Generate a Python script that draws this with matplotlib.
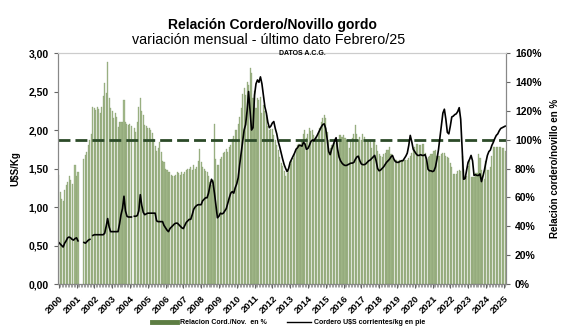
import numpy as np
import matplotlib
matplotlib.use("Agg")
import matplotlib.pyplot as plt
from matplotlib.ticker import FuncFormatter, MultipleLocator
from matplotlib.lines import Line2D

plt.rcParams['font.family'] = ['Liberation Sans', 'DejaVu Sans']

nan = np.nan

# relacion cordero/novillo en % (barras, eje derecho), mensual ene-2000 .. feb-2025
relacion = [
    75.7, 64.0, 58.7, 57.6, 65.1, 68.3, 70.9, 74.7, 72.0, 69.3, nan, 82.7,       # 2000
    74.7, 77.9, nan, nan, nan, 86.4, 89.6, 91.7, 96.0, 99.7, 104.0, 122.7,       # 2001
    121.6, 120.5, 122.7, 121.1, 118.4, 122.7, 130.1, 139.2, 132.3, 154.1, 129.1, 122.1,  # 2002
    120.0, 114.7, 118.4, 115.7, 108.8, 112.0, 112.0, 112.0, 127.5, 112.0, 110.9, 110.4,  # 2003
    110.9, 109.3, nan, 108.3, 105.1, 112.0, 122.7, 129.1, 120.0, 117.3, 110.4, 109.3,    # 2004
    108.3, 108.3, 106.7, 104.5, 100.3, 95.5, 92.3, 93.9, 98.7, 91.2, 85.3, 84.3,  # 2005
    80.0, 78.9, 77.9, 77.3, 75.7, 74.7, 74.7, 75.7, 77.3, 76.8, 75.7, 77.3,       # 2006
    76.3, 77.3, 78.9, 80.0, 80.0, 81.1, 78.9, 82.7, 80.0, 81.1, 85.3, 93.3,       # 2007
    84.3, 81.1, 80.0, 78.4, 77.3, 74.7, 70.4, 68.3, 72.0, 110.9, 86.4, 82.7,      # 2008
    82.7, 86.4, 88.0, 90.7, 91.7, 93.3, 91.7, 94.9, 96.0, 100.3, 102.4, 106.7,    # 2009
    106.7, 110.9, 115.7, 121.6, 131.7, 135.5, 130.7, 139.7, 137.6, 149.3, 146.1, 128.5,  # 2010
    133.9, 121.6, 128.5, 127.5, 129.6, 118.4, 123.7, 119.5, 117.3, 109.3, 106.7, 107.7,  # 2011
    107.7, 103.0, 99.7, 96.5, 92.8, 88.0, 84.0, 81.6, 78.0, 75.0, 77.0, 80.0,     # 2012
    83, 85, 87, 90, 93, 96, 97, 96, 100, 104, 107, 101,        # 2013
    104, 108, 106, 107, 103, 100, 102, 104, 108, 112, 115, 117,  # 2014
    115, 105, 100, 94, 96, 97, 98, 98, 100, 103, 103, 102,     # 2015
    103, 101, 100, 100, 94, 99, 101, 104, 110, 104, 100, 102,  # 2016
    100, 104, 102, 100, 99, 100, 100, 94, 100, 99, 96, 92,     # 2017
    90, 89, 88, 90, 91, 93, 93, 95, 90, 87, 86, 86,            # 2018
    86, 85, 86, 86, 86, 86, 86, 86, 87, 89, 91, 93,            # 2019
    95, 97, 97, 96, 96, 97, 97, 91, 85, 88, 89, 90,            # 2020
    90, 92, 93, 89, 89, 89, 90, 91, 91, 89, 88, 87,            # 2021
    84, 81, 76, 76, 76, 78, 79, 78, 89, 80, 75, 75,            # 2022
    82, 85, 74, 74, 74, 77, 77, 90, 87, 79, 75, 73,            # 2023
    85, 79, 79, 81, 89, 95, 95, 95, 95, 95, 95, 94,            # 2024
    94, 92,                                                    # 2025
]

# cordero U$S corrientes/kg en pie (linea, eje izquierdo)
cordero = [
    0.54, 0.52, 0.50, 0.48, 0.53, 0.56, 0.60, 0.61, 0.60, 0.58, 0.57, 0.59,  # 2000
    0.60, 0.56, nan, nan, nan, 0.54, 0.53, 0.55, 0.57, 0.58, nan, 0.63,      # 2001
    0.64, 0.64, 0.64, 0.64, 0.64, 0.64, 0.64, 0.66, 0.75, 0.85, 0.74, 0.68,  # 2002
    0.68, 0.68, 0.68, 0.68, 0.68, 0.78, 0.90, 0.98, 1.14, 0.95, 0.88, 0.87,  # 2003
    0.87, 0.87, nan, 0.88, 0.88, 0.89, 0.95, 1.16, 1.02, 0.93, 0.90, 0.91,   # 2004
    0.92, 0.92, 0.92, 0.92, 0.92, 0.92, 0.82, 0.81, 0.81, 0.81, 0.81, 0.76,  # 2005
    0.73, 0.70, 0.68, 0.72, 0.74, 0.76, 0.78, 0.79, 0.79, 0.77, 0.75, 0.73,  # 2006
    0.72, 0.76, 0.80, 0.82, 0.84, 0.84, 0.90, 0.97, 1.00, 1.02, 1.03, 1.03,  # 2007
    1.03, 1.08, 1.10, 1.12, 1.12, 1.18, 1.28, 1.36, 1.32, 1.18, 1.02, 0.86,  # 2008
    0.88, 0.92, 0.91, 0.92, 0.95, 0.98, 1.05, 1.12, 1.18, 1.20, 1.18, 1.25,  # 2009
    1.30, 1.38, 1.55, 1.70, 1.85, 2.00, 2.07, 2.25, 2.50, 2.25, 2.00, 2.03,  # 2010
    2.45, 2.60, 2.65, 2.62, 2.69, 2.60, 2.45, 2.30, 2.22, 2.10, 2.03, 2.05,  # 2011
    2.09, 2.11, 2.02, 1.95, 1.85, 1.78, 1.70, 1.62, 1.55, 1.50, 1.46, 1.50,  # 2012
    1.58, 1.62, 1.66, 1.70, 1.75, 1.77, 1.80, 1.80, 1.79, 1.84, 1.82, 1.75,  # 2013
    1.76, 1.80, 1.85, 1.87, 1.86, 1.89, 1.92, 1.96, 2.00, 2.04, 2.07, 2.08,  # 2014
    2.02, 1.88, 1.72, 1.68, 1.75, 1.80, 1.86, 1.90, 1.75, 1.65, 1.60, 1.57,  # 2015
    1.55, 1.54, 1.54, 1.55, 1.56, 1.57, 1.57, 1.58, 1.62, 1.65, 1.66, 1.60,  # 2016
    1.56, 1.55, 1.55, 1.56, 1.58, 1.60, 1.61, 1.63, 1.65, 1.67, 1.60, 1.50,  # 2017
    1.47, 1.48, 1.50, 1.52, 1.55, 1.58, 1.60, 1.62, 1.65, 1.67, 1.62, 1.59,  # 2018
    1.58, 1.58, 1.59, 1.60, 1.60, 1.63, 1.66, 1.70, 1.80, 1.93, 1.85, 1.75,  # 2019
    1.72, 1.69, 1.67, 1.67, 1.68, 1.67, 1.67, 1.68, 1.62, 1.49, 1.47, 1.47,  # 2020
    1.46, 1.47, 1.52, 1.62, 1.74, 1.90, 2.06, 2.22, 2.27, 2.14, 1.97, 1.95,  # 2021
    2.05, 2.17, 2.18, 2.20, 2.21, 2.24, 2.29, 2.14, 1.74, 1.36, 1.37, 1.48,  # 2022
    1.58, 1.62, 1.67, 1.60, 1.41, 1.42, 1.41, 1.41, 1.43, 1.33, 1.40, 1.48,  # 2023
    1.58, 1.67, 1.72, 1.74, 1.80, 1.84, 1.89, 1.93, 1.95, 1.99, 2.02, 2.03,  # 2024
    2.04, 2.05,                                                              # 2025
]

years = [str(y) for y in range(2000, 2026)]
meses = np.arange(len(relacion))

fig = plt.figure(figsize=(5.78, 3.34), dpi=100)
ax = fig.add_axes([0.1003, 0.1497, 0.775, 0.6916])
ax2 = ax.twinx()

# barras en eje derecho, linea encima en eje izquierdo
ax2.bar(meses, relacion, width=0.72, color='#a4b98c', edgecolor='#7d9866', linewidth=0.2)
ax2.axhline(100, color='#2c4a28', lw=2, dashes=(4.3, 1.8))
ax2.set_ylim(0, 160)
ax2.yaxis.set_major_locator(MultipleLocator(20))
ax2.yaxis.set_major_formatter(FuncFormatter(lambda v, p: '%d%%' % v))

ax.plot(meses, cordero, color='black', lw=1.2)
ax.set_ylim(0, 3)
ax.yaxis.set_major_locator(MultipleLocator(0.5))
ax.yaxis.set_major_formatter(FuncFormatter(lambda v, p: ('%.2f' % v).replace('.', ',')))
ax.set_zorder(ax2.get_zorder() + 1)
ax.patch.set_visible(False)

ax.set_xlim(-0.5, len(meses) - 0.5)
ax.set_xticks(np.arange(0, len(meses), 12))
ax.set_xticklabels(years, rotation=45, ha='right', rotation_mode='anchor')
ax.set_xticks(meses, minor=True)
ax.tick_params(axis='x', which='major', length=3, color='#666666', labelsize=6.8, pad=4)
ax.tick_params(axis='x', which='minor', length=2, color='#777777', width=0.5)
ax.tick_params(axis='y', length=3, color='#666666', labelsize=7.5)
ax2.tick_params(axis='y', length=3, color='#666666', labelsize=7.5)
for lab in ax.get_xticklabels() + ax.get_yticklabels() + ax2.get_yticklabels():
    lab.set_fontweight('bold')

for a in (ax, ax2):
    for s in a.spines.values():
        s.set_color('#888888')
        s.set_linewidth(0.8)
ax.spines['top'].set_color('#cccccc')
ax2.spines['top'].set_color('#cccccc')

ax.set_ylabel('U$S/Kg', fontsize=7, fontweight='bold', labelpad=6)
ax2.set_ylabel('Relación cordero/novillo en %', fontsize=7, fontweight='bold', labelpad=6)

fig.text(0.472, 0.913, 'Relación Cordero/Novillo gordo', ha='center', fontsize=10, fontweight='bold')
fig.text(0.464, 0.868, 'variación mensual - último dato Febrero/25', ha='center', fontsize=10.3)
fig.text(0.524, 0.836, 'DATOS A.C.G.', ha='center', fontsize=5, fontweight='bold')

handles = [Line2D([0], [0], color='#5d7d43', lw=3.5),
           Line2D([0], [0], color='black', lw=1)]
fig.legend(handles, ['Relacion Cord./Nov.  en %', 'Cordero U$S corrientes/kg en pie'],
           loc='center', bbox_to_anchor=(0.5, 0.033), ncol=2, frameon=False,
           prop={'size': 5, 'weight': 'bold'}, handlelength=3.5, columnspacing=3, handletextpad=0.4)

fig.savefig('out.png', dpi=100)
